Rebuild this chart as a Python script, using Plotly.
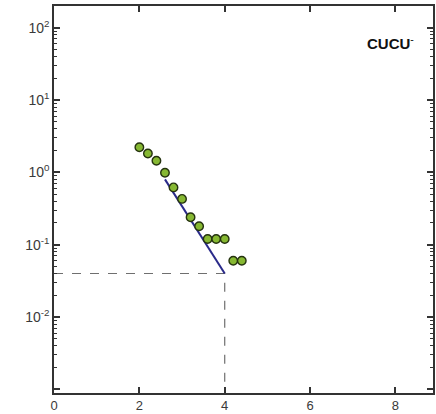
import plotly.graph_objects as go

# Measured points
x_pts = [2.0, 2.2, 2.4, 2.6, 2.8, 3.0, 3.2, 3.4, 3.6, 3.8, 4.0, 4.2, 4.4]
y_pts = [2.23, 1.82, 1.45, 0.99, 0.62, 0.43, 0.24, 0.18, 0.12, 0.12, 0.12, 0.06, 0.06]

# Fitted line
x_fit = [2.6, 4.0]
y_fit = [0.80, 0.040]

# Reference guides at the fit end point
x_ref = 4.0
y_ref = 0.040

x_range = [0, 8.88]
y_range_log = [-3.05, 2.3]

# Decade labels written as powers of ten
y_label_alias = {
    "100": "10<sup>2</sup>", "10": "10<sup>1</sup>", "1": "10<sup>0</sup>",
    "0.1": "10<sup>-1</sup>", "0.01": "10<sup>-2</sup>", "0.001": "",
}

fig = go.Figure()

fig.add_trace(go.Scatter(
    x=[x_range[0], x_ref, x_ref], y=[y_ref, y_ref, 10 ** y_range_log[0]],
    mode="lines", line=dict(color="#6f6f6f", width=1.2, dash="dash"),
    hoverinfo="skip", showlegend=False,
))

fig.add_trace(go.Scatter(
    x=x_fit, y=y_fit, mode="lines",
    line=dict(color="#2a2a8a", width=2),
    showlegend=False,
))

fig.add_trace(go.Scatter(
    x=x_pts, y=y_pts, mode="markers",
    marker=dict(size=8.5, color="#86b832",
                line=dict(color="#25330f", width=1.4)),
    showlegend=False,
))

fig.add_annotation(
    x=0.955, y=0.905, xref="paper", yref="paper",
    text="<b>CUCU</b><sup>-</sup>", showarrow=False,
    xanchor="right", yanchor="middle",
    font=dict(size=15, color="#111111"),
)

fig.update_layout(
    width=436, height=414,
    margin=dict(l=54, r=1, t=6, b=19),
    plot_bgcolor="white",
    font=dict(family="Liberation Sans, Arial", size=13, color="#3a3a3a"),
    xaxis=dict(
        range=x_range, tick0=0, dtick=2,
        ticks="inside", ticklen=6, tickwidth=1.5, tickcolor="#333333",
        showline=True, linecolor="#333333", linewidth=1.5, mirror="ticks",
        gridcolor="rgba(0,0,0,0)", zerolinecolor="rgba(0,0,0,0)",
    ),
    yaxis=dict(
        type="log", range=y_range_log, dtick=1, labelalias=y_label_alias,
        ticks="inside", ticklen=6, tickwidth=1.5, tickcolor="#333333",
        showline=True, linecolor="#333333", linewidth=1.5, mirror="ticks",
        gridcolor="rgba(0,0,0,0)", tickfont=dict(size=14),
        minor=dict(ticks="inside", ticklen=3, tickwidth=1.2, tickcolor="#333333",
                   gridcolor="rgba(0,0,0,0)"),
    ),
)

fig.write_html("out.html")
